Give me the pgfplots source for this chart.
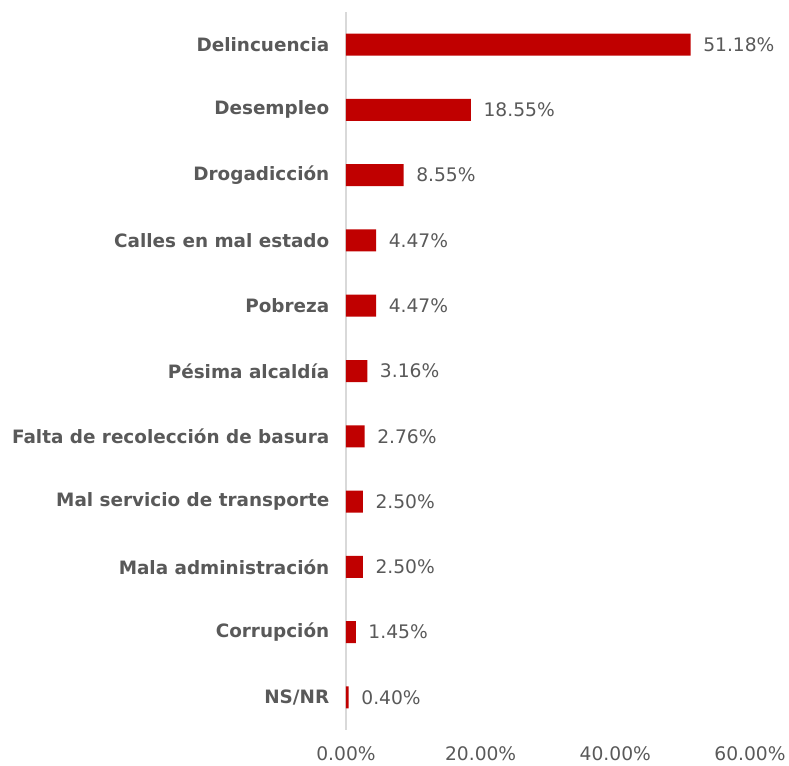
\documentclass[border=0pt]{standalone}
\usepackage{pgfplots}
\pgfplotsset{compat=1.18}
\usepackage{fontspec}
\setmainfont{DejaVu Sans}
\definecolor{barred}{HTML}{C00000}
\definecolor{labgray}{HTML}{595959}
\definecolor{axgray}{HTML}{D9D9D9}
\begin{document}
\begin{tikzpicture}[x=1pt,y=1pt]
\begin{axis}[
  name=ax,
  scale only axis,
  width=303pt, height=538.5pt,
  xbar, bar width=16.5pt,
  xmin=0, xmax=60,
  ymin=-0.5, ymax=10.5,
  y dir=reverse,
  ytick={0,...,10},
  yticklabels={Delincuencia, Desempleo, Drogadicción, Calles en mal estado, Pobreza, Pésima alcaldía\ , Falta de recolección de basura, Mal servicio de transporte, Mala administración, Corrupción\ , NS/NR},
  yticklabel style={font=\fontsize{13.8}{16}\selectfont\bfseries, text=labgray, xshift=-9pt},
  xtick={0,20,40,60},
  xticklabels={0.00\%, 20.00\%, 40.00\%, 60.00\%},
  xticklabel style={font=\fontsize{14}{16}\selectfont, text=labgray, yshift=-9pt},
  major tick length=0pt,
  axis lines*=left,
  x axis line style={draw=none},
  y axis line style={draw=axgray, line width=0.8pt},
  clip=false,
  nodes near coords={\pgfmathprintnumber[fixed,fixed zerofill,precision=2]{\pgfplotspointmeta}\%},
  point meta=x,
  every node near coord/.append style={font=\fontsize{14}{16}\selectfont, text=labgray, xshift=6pt},
  /pgf/number format/assume math mode=true,
]
\addplot[fill=barred, draw=none] coordinates {
  (51.18,0) (18.55,1) (8.55,2) (4.47,3) (4.47,4) (3.16,5)
  (2.76,6) (2.50,7) (2.50,8) (1.45,9) (0.40,10)
};
\end{axis}
\pgfresetboundingbox
\path (ax.south west) ++(-259.5pt,-26.25pt) rectangle ++(591.75pt,573.75pt);
\end{tikzpicture}
\end{document}
